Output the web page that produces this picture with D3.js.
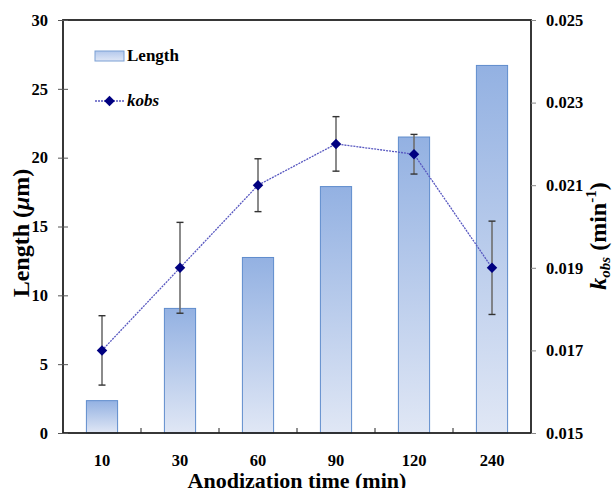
<!DOCTYPE html>
<html>
<head>
<meta charset="utf-8">
<script src="https://cdn.jsdelivr.net/npm/d3@7"></script>
<style>
  body { margin: 0; background: #fff; }
  text { font-family: "Liberation Serif", "Times New Roman", serif; font-weight: bold; fill: #000; }
</style>
</head>
<body>
<svg id="chart" width="615" height="488"></svg>
<script>
// data
const times = ["10", "30", "60", "90", "120", "240"];
const lengthUm = [2.35, 9.05, 12.75, 17.9, 21.5, 26.7];
const kobs = [0.0170, 0.0190, 0.0210, 0.0220, 0.02175, 0.0190];
const kobsErr = [0.00084, 0.0011, 0.00064, 0.00066, 0.00048, 0.00113];
const lengthTicks = [0, 5, 10, 15, 20, 25, 30];
const kobsTicks = [0.015, 0.017, 0.019, 0.021, 0.023, 0.025];

(function(d3) {
  const svg = d3.select("#chart");
  const left = 63, right = 531, top = 20, bottom = 433;

  const x = d3.scaleBand().domain(times).range([left, right]).paddingInner(0.6).paddingOuter(0.3);
  const yL = d3.scaleLinear().domain([0, 30]).range([bottom, top]);
  const yR = d3.scaleLinear().domain([0.015, 0.025]).range([bottom, top]);

  // gradient for bars
  const defs = svg.append("defs");
  const grad = defs.append("linearGradient")
    .attr("id", "barGrad").attr("x1", 0).attr("y1", 0).attr("x2", 0).attr("y2", 1);
  grad.append("stop").attr("offset", "0%").attr("stop-color", "#93b1e2");
  grad.append("stop").attr("offset", "100%").attr("stop-color", "#e0e7f5");

  // bars
  svg.append("g").selectAll("rect")
    .data(times)
    .enter()
    .append("rect")
    .attr("x", d => x(d))
    .attr("width", x.bandwidth())
    .attr("y", (d, i) => yL(lengthUm[i]))
    .attr("height", (d, i) => bottom - yL(lengthUm[i]))
    .attr("fill", "url(#barGrad)")
    .attr("stroke", "#5f8ccc")
    .attr("stroke-width", 1);

  // frame
  svg.append("rect")
    .attr("x", left).attr("y", top)
    .attr("width", right - left).attr("height", bottom - top)
    .attr("fill", "none").attr("stroke", "#222").attr("stroke-width", 1.8);

  // left axis
  const axL = svg.append("g")
    .attr("transform", `translate(${left},0)`)
    .call(d3.axisLeft(yL).tickValues(lengthTicks).tickSizeInner(5).tickSizeOuter(0).tickPadding(10));
  axL.select(".domain").remove();
  axL.selectAll(".tick line").attr("x1", 5).attr("stroke", "#555");
  axL.selectAll(".tick text").style("font-size", "16.5px").style("font-family", null);

  // right axis
  const axR = svg.append("g")
    .attr("transform", `translate(${right},0)`)
    .call(d3.axisRight(yR).tickValues(kobsTicks).tickFormat(d3.format(".3f")).tickSizeInner(5).tickSizeOuter(0).tickPadding(10));
  axR.select(".domain").remove();
  axR.selectAll(".tick line").attr("stroke", "#888");
  axR.selectAll(".tick text").style("font-size", "16.5px").style("font-family", null);

  // bottom axis labels
  const axB = svg.append("g")
    .attr("transform", `translate(0,${bottom})`)
    .call(d3.axisBottom(x).tickSize(0).tickPadding(21));
  axB.select(".domain").remove();
  axB.selectAll(".tick text").style("font-size", "16.5px").style("font-family", null);

  // bottom ticks between categories, pointing up
  const bounds = times.slice(1).map(d => x(d) - x.step() * x.paddingInner() / 2);
  svg.append("g").selectAll("line")
    .data(bounds)
    .enter()
    .append("line")
    .attr("x1", d => d).attr("x2", d => d)
    .attr("y1", bottom).attr("y2", bottom - 5)
    .attr("stroke", "#222").attr("stroke-width", 1);

  // error bars
  const cx = d => x(d) + x.bandwidth() / 2;
  const eb = svg.append("g");
  times.forEach((d, i) => {
    const hi = yR(kobs[i] + kobsErr[i]), lo = yR(kobs[i] - kobsErr[i]);
    eb.append("line").attr("x1", cx(d)).attr("x2", cx(d)).attr("y1", hi).attr("y2", lo)
      .attr("stroke", "#6e6e6e").attr("stroke-width", 1.6);
    [hi, lo].forEach(yy => {
      eb.append("line").attr("x1", cx(d) - 3.5).attr("x2", cx(d) + 3.5).attr("y1", yy).attr("y2", yy)
        .attr("stroke", "#333").attr("stroke-width", 1.4);
    });
  });

  // kobs line
  const line = d3.line().x((d, i) => cx(times[i])).y(d => yR(d));
  svg.append("path")
    .datum(kobs)
    .attr("d", line)
    .attr("fill", "none")
    .attr("stroke", "#5858c0")
    .attr("stroke-width", 1.3)
    .attr("stroke-dasharray", "2,1");

  const diamond = d3.symbol().type(d3.symbolDiamond2).size(70);
  svg.append("g").selectAll("path")
    .data(kobs)
    .enter()
    .append("path")
    .attr("d", diamond)
    .attr("transform", (d, i) => `translate(${cx(times[i])},${yR(d)})`)
    .attr("fill", "#000080");

  // legend
  const lg = svg.append("g");
  const lgGrad = defs.append("linearGradient")
    .attr("id", "lgGrad").attr("x1", 0).attr("y1", 0).attr("x2", 0).attr("y2", 1);
  lgGrad.append("stop").attr("offset", "0%").attr("stop-color", "#b3c8ec");
  lgGrad.append("stop").attr("offset", "100%").attr("stop-color", "#dfe7f6");
  lg.append("rect").attr("x", 95).attr("y", 51).attr("width", 29).attr("height", 10)
    .attr("fill", "url(#lgGrad)").attr("stroke", "#7a9fd4");
  lg.append("text").attr("x", 127).attr("y", 61).style("font-size", "17px").text("Length");
  lg.append("line").attr("x1", 95).attr("x2", 124).attr("y1", 101).attr("y2", 101)
    .attr("stroke", "#5858c0").attr("stroke-width", 1.3).attr("stroke-dasharray", "2,1");
  lg.append("path").attr("d", diamond).attr("transform", "translate(109.5,101)").attr("fill", "#000080");
  lg.append("text").attr("x", 127).attr("y", 106).style("font-size", "17px").style("font-style", "italic").text("kobs");

  // axis titles
  const tL = svg.append("text")
    .attr("transform", "translate(29,233) rotate(-90)")
    .attr("text-anchor", "middle")
    .style("font-size", "24px");
  tL.append("tspan").text("Length (");
  tL.append("tspan").style("font-style", "italic").text("\u03bc");
  tL.append("tspan").text("m)");

  const tR = svg.append("text")
    .attr("transform", "translate(606,236) rotate(-90)")
    .attr("text-anchor", "middle")
    .style("font-size", "24px");
  tR.append("tspan").style("font-style", "italic").text("k");
  tR.append("tspan").style("font-style", "italic").style("font-size", "15px").attr("dy", 4).text("obs");
  tR.append("tspan").attr("dy", -4).text(" (min");
  tR.append("tspan").style("font-size", "15px").attr("dy", -10).text("-1");
  tR.append("tspan").attr("dy", 10).text(")");

  svg.append("text")
    .attr("x", (left + right) / 2).attr("y", 488)
    .attr("text-anchor", "middle")
    .style("font-size", "22px")
    .text("Anodization time (min)");
})(d3);
</script>
</body>
</html>
